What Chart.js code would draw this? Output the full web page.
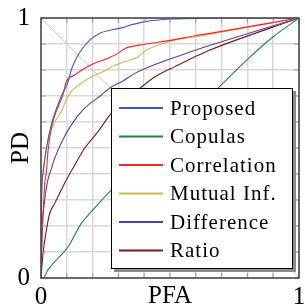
<!DOCTYPE html>
<html>
<head>
<meta charset="utf-8">
<script src="https://cdn.jsdelivr.net/npm/chart.js@4.4.0/dist/chart.umd.min.js"></script>
<style>
  html, body { margin: 0; padding: 0; background: #fff; }
  .chart-wrap { width: 305px; height: 306px; }
</style>
</head>
<body>
<div class="chart-wrap"><canvas id="rocChart"></canvas></div>
<script>
/* ROC curves: PD against PFA for six detectors */

const seriesNames  = ['Proposed', 'Copulas', 'Correlation', 'Mutual Inf.', 'Difference', 'Ratio'];
const seriesColors = ['#3b5db5', '#17874a', '#f2282a', '#c9b955', '#5a3ea5', '#7d1518'];

const proposedPFA = [0, 0.002, 0.008, 0.021, 0.040, 0.079, 0.105, 0.117, 0.137, 0.156, 0.189, 0.228, 0.272, 0.318, 0.338, 0.403, 0.507, 0.647, 0.80, 1];
const proposedPD  = [0, 0.30, 0.41, 0.50, 0.59, 0.70, 0.755, 0.80, 0.845, 0.877, 0.915, 0.941, 0.954, 0.963, 0.970, 0.986, 0.996, 0.999, 1, 1];

const copulasPFA = [0, 0.008, 0.027, 0.066, 0.105, 0.156, 0.195, 0.272, 0.687, 0.797, 0.900, 1];
const copulasPD  = [0, 0, 0.031, 0.076, 0.120, 0.210, 0.255, 0.338, 0.731, 0.838, 0.928, 1];

const correlationPFA = [0, 0.004, 0.014, 0.021, 0.027, 0.040, 0.059, 0.085, 0.098, 0.131, 0.169, 0.208, 0.260, 0.298, 0.326, 0.403, 0.507, 0.597, 0.655, 1];
const correlationPD  = [0, 0.15, 0.358, 0.409, 0.486, 0.576, 0.640, 0.704, 0.755, 0.781, 0.807, 0.826, 0.845, 0.864, 0.883, 0.899, 0.915, 0.932, 0.941, 1];

const mutualPFA = [0, 0.002, 0.008, 0.014, 0.027, 0.047, 0.079, 0.098, 0.117, 0.156, 0.195, 0.240, 0.286, 0.326, 0.377, 0.403, 0.507, 0.623, 1];
const mutualPD  = [0, 0.30, 0.396, 0.447, 0.524, 0.588, 0.640, 0.686, 0.717, 0.749, 0.774, 0.793, 0.819, 0.832, 0.851, 0.873, 0.912, 0.932, 1];

const differencePFA = [0, 0.003, 0.012, 0.025, 0.040, 0.053, 0.079, 0.117, 0.169, 0.234, 0.266, 0.318, 0.364, 0.455, 0.545, 0.647, 1];
const differencePD  = [0, 0.15, 0.28, 0.37, 0.42, 0.46, 0.52, 0.588, 0.653, 0.704, 0.730, 0.758, 0.787, 0.826, 0.858, 0.892, 1];

const ratioPFA = [0, 0.008, 0.021, 0.034, 0.053, 0.098, 0.131, 0.169, 0.221, 0.27, 0.384, 0.442, 0.519, 0.597, 0.655, 1];
const ratioPD  = [0, 0.096, 0.185, 0.249, 0.287, 0.377, 0.435, 0.499, 0.563, 0.63, 0.730, 0.774, 0.813, 0.851, 0.877, 1];

const chancePFA = [0, 1];
const chancePD  = [1, 0];

const axisTickLabels = { 0: '0', 1: '1' };

const seriesPFA = [proposedPFA, copulasPFA, correlationPFA, mutualPFA, differencePFA, ratioPFA];
const seriesPD  = [proposedPD, copulasPD, correlationPD, mutualPD, differencePD, ratioPD];

const toPoints = (xs, ys) => xs.map((x, i) => ({ x: x, y: ys[i] }));

const datasets = seriesNames.map((name, i) => ({
  label: name,
  data: toPoints(seriesPFA[i], seriesPD[i]),
  borderColor: seriesColors[i],
  borderWidth: 1.1,
  pointRadius: 0,
  cubicInterpolationMode: 'monotone'
}));
datasets.push({
  label: '',
  data: toPoints(chancePFA, chancePD),
  borderColor: '#c4c4c4',
  borderWidth: 1,
  pointRadius: 0
});

const serif = '"Liberation Serif", "Times New Roman", serif';

const tickLabel = v => {
  const k = Math.round(v * 10) / 10;
  return axisTickLabels[k] !== undefined && Math.abs(v - k) < 1e-9 ? axisTickLabels[k] : '';
};

/* frame + inward tick marks, pgfplots style */
const axisFrame = {
  id: 'axisFrame',
  afterDatasetsDraw(chart) {
    const { ctx, chartArea: a, scales } = chart;
    ctx.save();
    ctx.strokeStyle = '#9a9a9a';
    ctx.lineWidth = 1;
    ctx.beginPath();
    scales.x.ticks.forEach(t => {
      const x = scales.x.getPixelForValue(t.value);
      ctx.moveTo(x, a.bottom); ctx.lineTo(x, a.bottom - 5);
      ctx.moveTo(x, a.top); ctx.lineTo(x, a.top + 5);
    });
    scales.y.ticks.forEach(t => {
      const y = scales.y.getPixelForValue(t.value);
      ctx.moveTo(a.left, y); ctx.lineTo(a.left + 5, y);
      ctx.moveTo(a.right, y); ctx.lineTo(a.right - 5, y);
    });
    ctx.stroke();
    ctx.strokeStyle = '#4d4d4d';
    ctx.lineWidth = 1.6;
    ctx.strokeRect(a.left, a.top, a.right - a.left, a.bottom - a.top);
    ctx.restore();
  }
};

/* legend box inside the plot, with a drop shadow */
const boxLegend = {
  id: 'boxLegend',
  afterDraw(chart) {
    const { ctx, chartArea: a } = chart;
    const left = a.left + 70, top = a.top + 70;
    const right = a.right - 6, bottom = a.bottom - 9;
    ctx.save();
    ctx.fillStyle = '#8c8c8c';
    ctx.fillRect(left + 3, top + 3, right - left, bottom - top);
    ctx.fillStyle = '#fff';
    ctx.fillRect(left, top, right - left, bottom - top);
    ctx.strokeStyle = '#000';
    ctx.lineWidth = 1;
    ctx.strokeRect(left + 0.5, top + 0.5, right - left - 1, bottom - top - 1);
    ctx.font = '21px ' + serif;
    ctx.letterSpacing = '1px';
    ctx.textBaseline = 'middle';
    ctx.textAlign = 'left';
    chart.data.datasets.forEach((ds, i) => {
      if (!ds.label) return;
      const y = top + 20 + i * 28.5;
      ctx.strokeStyle = ds.borderColor;
      ctx.lineWidth = 1.8;
      ctx.beginPath();
      ctx.moveTo(left + 8, y);
      ctx.lineTo(left + 52, y);
      ctx.stroke();
      ctx.fillStyle = '#000';
      ctx.fillText(ds.label, left + 59, y + 1);
    });
    ctx.restore();
  }
};

new Chart(document.getElementById('rocChart'), {
  type: 'line',
  data: { datasets: datasets },
  options: {
    responsive: true,
    maintainAspectRatio: false,
    animation: false,
    layout: { padding: { top: 18, right: 6, left: 0, bottom: 0 } },
    plugins: { legend: { display: false }, tooltip: { enabled: false } },
    scales: {
      x: {
        type: 'linear', min: 0, max: 1,
        afterFit: s => { s.height = 28; s.paddingLeft = 0; s.paddingRight = 0; },
        grid: { color: '#d8d8d8', lineWidth: 1.5, drawTicks: false },
        border: { display: false },
        ticks: { stepSize: 0.1, autoSkip: false, maxRotation: 0, padding: 4,
                 color: '#000', font: { family: serif, size: 25 }, callback: tickLabel },
        title: { display: true, text: 'PFA', color: '#000', padding: 0,
                 font: { family: serif, size: 25, lineHeight: 0.8 } }
      },
      y: {
        type: 'linear', min: 0, max: 1,
        afterFit: s => { s.width = 41; s.paddingTop = 0; s.paddingBottom = 0; },
        grid: { color: '#d8d8d8', lineWidth: 1.5, drawTicks: false },
        border: { display: false },
        ticks: { stepSize: 0.1, autoSkip: false, padding: 11,
                 color: '#000', font: { family: serif, size: 25 }, callback: tickLabel },
        title: { display: true, text: 'PD', color: '#000', padding: { top: 11, bottom: 0 },
                 font: { family: serif, size: 25, lineHeight: 0.8 } }
      }
    }
  },
  plugins: [axisFrame, boxLegend]
});
</script>
</body>
</html>
